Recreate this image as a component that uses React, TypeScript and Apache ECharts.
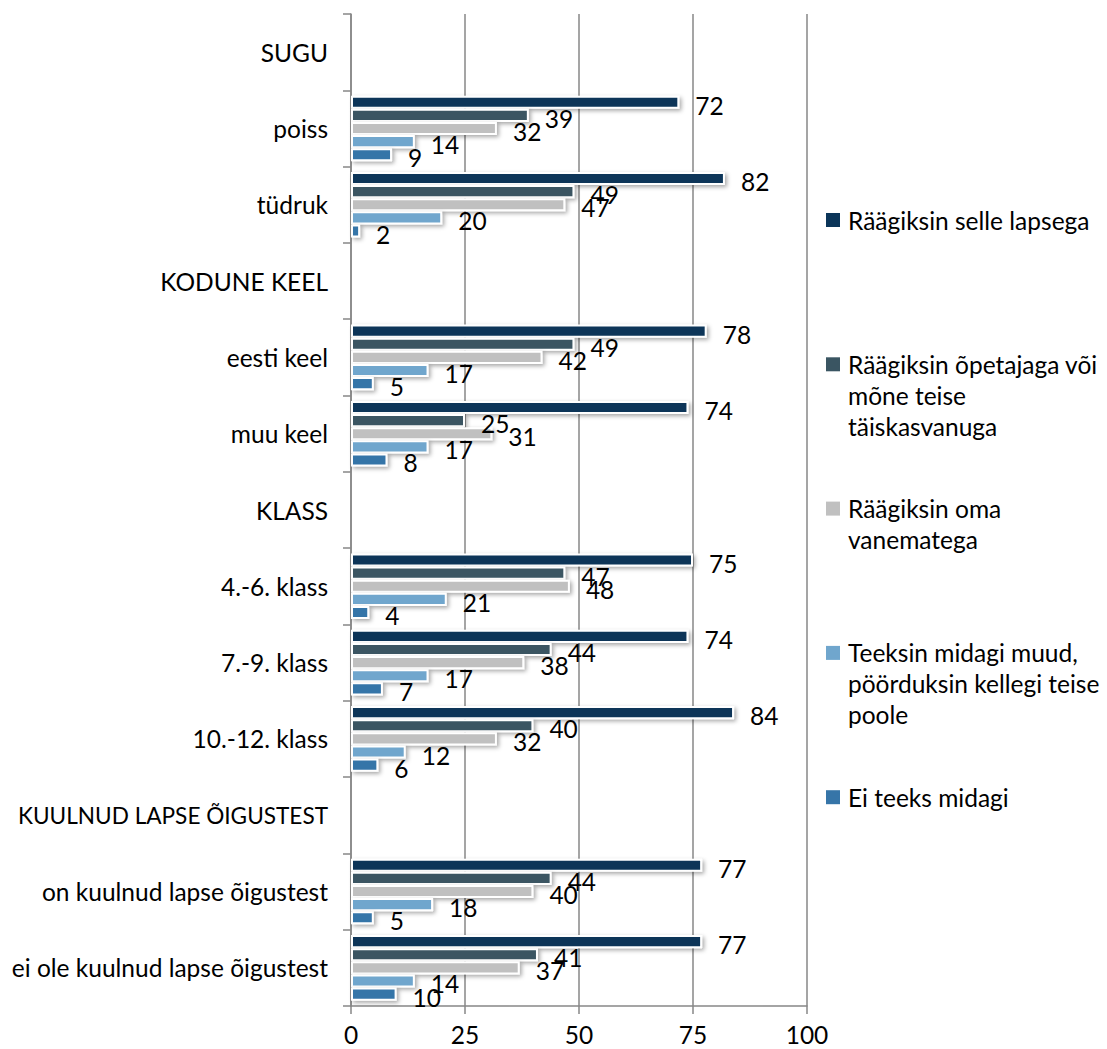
import React, { useEffect, useRef } from "react";
import * as echarts from "echarts";

const categories = [
  "SUGU",
  "poiss",
  "tüdruk",
  "KODUNE KEEL",
  "eesti keel",
  "muu keel",
  "KLASS",
  "4.-6. klass",
  "7.-9. klass",
  "10.-12. klass",
  "KUULNUD LAPSE ÕIGUSTEST",
  "on kuulnud lapse õigustest",
  "ei ole kuulnud lapse õigustest",
];

const seriesNames = [
  "Räägiksin selle lapsega",
  "Räägiksin õpetajaga või mõne teise täiskasvanuga",
  "Räägiksin oma vanematega",
  "Teeksin midagi muud, pöörduksin kellegi teise poole",
  "Ei teeks midagi",
];

const legendLines = [
  ["Räägiksin selle lapsega"],
  ["Räägiksin õpetajaga või", "mõne teise", "täiskasvanuga"],
  ["Räägiksin oma", "vanematega"],
  ["Teeksin midagi muud,", "pöörduksin kellegi teise", "poole"],
  ["Ei teeks midagi"],
];

const talkChild = [null, 72, 82, null, 78, 74, null, 75, 74, 84, null, 77, 77];
const talkTeacher = [null, 39, 49, null, 49, 25, null, 47, 44, 40, null, 44, 41];
const talkParents = [null, 32, 47, null, 42, 31, null, 48, 38, 32, null, 40, 37];
const doOther = [null, 14, 20, null, 17, 17, null, 21, 17, 12, null, 18, 14];
const doNothing = [null, 9, 2, null, 5, 8, null, 4, 7, 6, null, 5, 10];

const xMin = 0;
const xMax = 100;
const xInterval = 25;

const seriesColors = ["#0b3559", "#3a5562", "#c0c0c0", "#70a6cd", "#3675a8"];

const FONT = "Lato, 'Liberation Sans', sans-serif";
const FONT_SIZE = 24.5;
const AXIS_GRAY = "#878787";

export default function App() {
  const ref = useRef<HTMLDivElement | null>(null);

  useEffect(() => {
    if (!ref.current) return;
    const chart = echarts.init(ref.current, undefined, { renderer: "svg" });
    const values = [talkChild, talkTeacher, talkParents, doOther, doNothing];

    const legendTop = 220;
    const legendStep = 144.3;
    const lineH = 31;
    const legendGraphics: any[] = [];
    legendLines.forEach((lines, i) => {
      const cy = legendTop + i * legendStep;
      legendGraphics.push({
        type: "rect",
        shape: { x: 826, y: cy - 7, width: 14, height: 14 },
        style: { fill: seriesColors[i] },
        silent: true,
      });
      legendGraphics.push({
        type: "text",
        x: 848,
        y: cy - lineH / 2,
        style: {
          text: lines.join("\n"),
          fill: "#000",
          fontSize: FONT_SIZE,
          fontFamily: FONT,
          lineHeight: lineH,
          align: "left",
          verticalAlign: "top",
        },
        silent: true,
      });
    });

    chart.setOption({
      animation: false,
      backgroundColor: "#fff",
      grid: {
        left: 351,
        top: 14,
        width: 456,
        height: 992,
        containLabel: false,
        outerBoundsMode: "none",
      },
      xAxis: {
        type: "value",
        min: xMin,
        max: xMax,
        interval: xInterval,
        axisLine: { show: true, lineStyle: { color: AXIS_GRAY, width: 1.5 } },
        axisTick: { show: true, length: 8, lineStyle: { color: AXIS_GRAY, width: 1.5 } },
        splitLine: { show: true, lineStyle: { color: AXIS_GRAY, width: 1.5 } },
        axisLabel: {
          color: "#000",
          fontSize: FONT_SIZE,
          fontFamily: FONT,
          margin: 18,
          lineHeight: 20,
        },
      },
      yAxis: {
        type: "category",
        data: categories,
        inverse: true,
        axisLine: { show: true, lineStyle: { color: AXIS_GRAY, width: 1.5 } },
        axisTick: { show: true, length: 8, lineStyle: { color: AXIS_GRAY, width: 1.5 } },
        axisLabel: {
          color: "#000",
          fontSize: FONT_SIZE,
          fontFamily: FONT,
          margin: 23,
          formatter: (v: string) =>
            v.length > 20 && v === v.toUpperCase() ? `{h|${v}}` : v,
          rich: {
            h: { fontSize: 22.6, fontFamily: FONT, color: "#000" },
          },
        },
        splitLine: { show: false },
      },
      series: seriesNames.map((name, i) => ({
        name,
        type: "bar",
        data: values[i],
        barCategoryGap: "14%",
        barGap: "0%",
        itemStyle: {
          color: seriesColors[i],
          borderColor: "#fff",
          borderWidth: 2,
          shadowBlur: 4,
          shadowOffsetX: 2,
          shadowOffsetY: 2,
          shadowColor: "rgba(0,0,0,0.35)",
        },
        label: {
          show: true,
          position: "right",
          distance: 16,
          offset: [0, 3],
          color: "#000",
          fontSize: FONT_SIZE,
          fontFamily: FONT,
        },
      })),
      graphic: legendGraphics,
    });

    return () => chart.dispose();
  }, []);

  return (
    <div
      ref={ref}
      style={{ position: "absolute", left: 0, top: 0, width: 1107, height: 1049, background: "#fff" }}
    />
  );
}
